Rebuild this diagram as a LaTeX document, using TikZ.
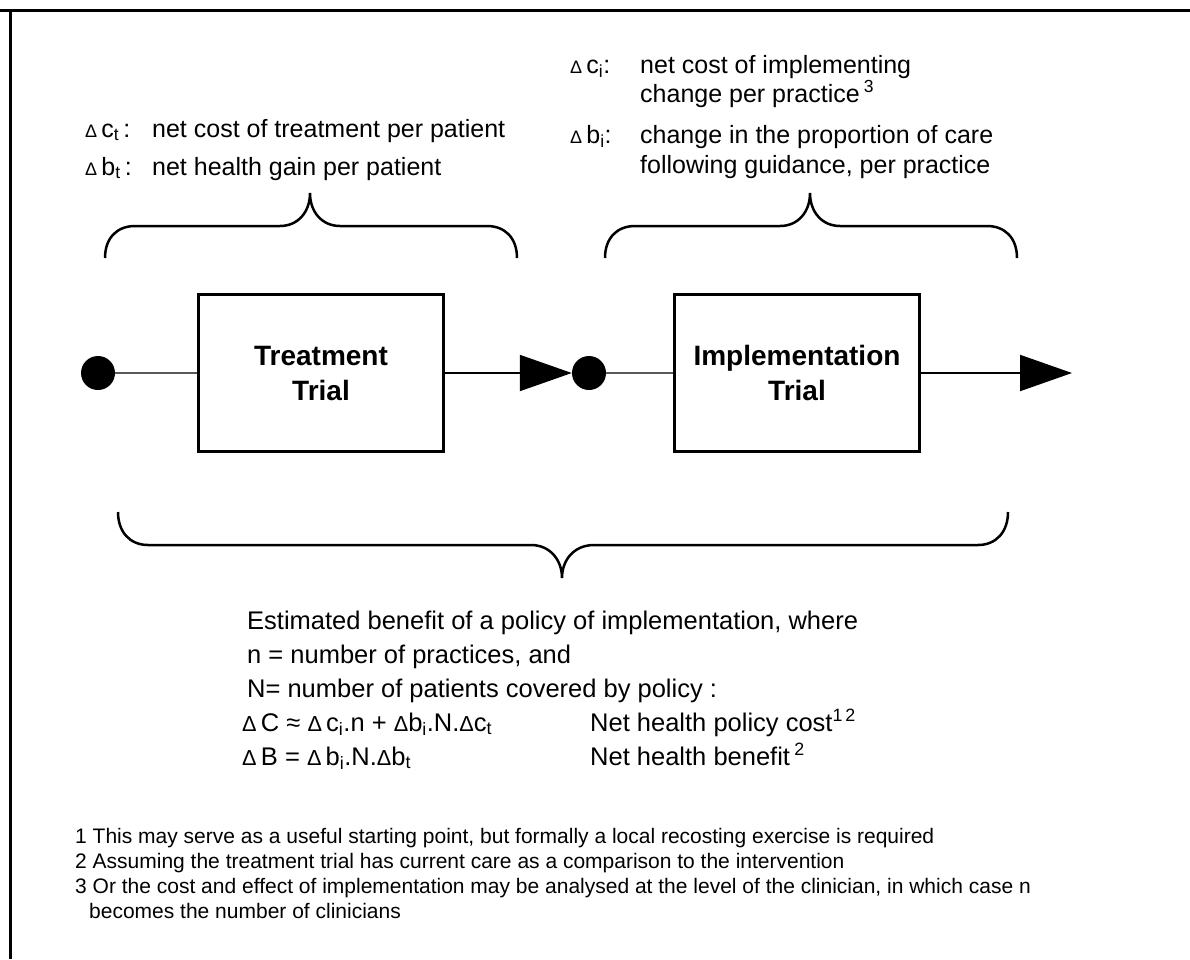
\documentclass[tikz,border=0pt]{standalone}
\usepackage{fontspec}
\setmainfont{Liberation Sans}
\usepackage{graphicx}
\usetikzlibrary{arrows.meta}
\newcommand{\D}{\scalebox{0.72}{Δ}}
\newcommand{\DD}{\scalebox{0.85}{Δ}}
\tikzset{
  txt/.style={anchor=base west, inner sep=0pt, font=\fontsize{25}{29}\selectfont},
  bot/.style={anchor=base west, inner sep=0pt, font=\fontsize{25.5}{30}\selectfont},
  fn/.style={anchor=base west, inner sep=0pt, font=\fontsize{21}{25}\selectfont},
  trialbox/.style={draw, line width=3pt, minimum width=245pt, minimum height=157pt, align=center, inner sep=0pt, font=\bfseries\fontsize{28}{35}\selectfont},
  dot/.style={circle, fill=black, inner sep=0pt, minimum size=34pt},
  thinline/.style={line width=2pt, black!65},
  flow/.style={line width=2pt, -{Triangle[length=52pt, width=36pt]}},
  brace/.style={line width=2.5pt},
  frame/.style={line width=3pt}
}
\begin{document}
\begin{tikzpicture}[x=1pt, y=-1pt]
\useasboundingbox (0,0) rectangle (1190,959);
% frame
\draw[frame] (0,10) -- (1190,10);
\draw[frame] (10,10) -- (10,959);
% top-left labels
\node[txt] (ct) at (85,137) {\makebox[67pt][l]{\D\,c\textsubscript{t}\,:}net cost of treatment per patient};
\node[txt] (bt) at (85,175) {\makebox[67pt][l]{\D\,b\textsubscript{t}\,:}net health gain per patient};
% top-right labels
\node[txt] (ci) at (570,73) {\makebox[70pt][l]{\D\,c\textsubscript{i}:}net cost of implementing};
\node[txt] (ci2) at (640,102) {change per practice\,\textsuperscript{3}};
\node[txt] (bi) at (570,143) {\makebox[70pt][l]{\D\,b\textsubscript{i}:}change in the proportion of care};
\node[txt] (bi2) at (640,173) {following guidance, per practice};
% braces
\draw[brace] (105,258) .. controls (105,238) and (117,226) .. (135,226) -- (280,226)
  .. controls (298,226) and (310,212) .. (310,193)
  .. controls (310,212) and (322,226) .. (340,226) -- (487,226)
  .. controls (505,226) and (517,238) .. (517,258);
\draw[brace] (605,258) .. controls (605,238) and (617,226) .. (635,226) -- (780,226)
  .. controls (798,226) and (810,212) .. (810,193)
  .. controls (810,212) and (822,226) .. (840,226) -- (987,226)
  .. controls (1005,226) and (1017,238) .. (1017,258);
\draw[brace] (118,512) .. controls (118,532) and (130,545) .. (148,545) -- (531,545)
  .. controls (550,545) and (562,560) .. (562,578)
  .. controls (562,560) and (574,545) .. (594,545) -- (978,545)
  .. controls (996,545) and (1008,532) .. (1008,512);
% flow
\node[dot] (d1) at (98,373) {};
\node[trialbox] (tt) at (321,373) {Treatment\\Trial};
\node[dot] (d2) at (589,373) {};
\node[trialbox] (it) at (797,373) {Implementation\\Trial};
\coordinate (end) at (1072,373);
\draw[thinline] (d1) -- (tt.west);
\draw[flow] (tt.east) -- (d2.west);
\draw[thinline] (d2) -- (it.west);
\draw[flow] (it.east) -- (end);
% bottom text
\node[bot] (est) at (247,629) {Estimated benefit of a policy of implementation, where};
\node[bot] (nn) at (247,663) {n = number of practices, and};
\node[bot] (NN) at (247,697) {N= number of patients covered by policy :};
\node[bot] (dC) at (242,731) {\DD\,C ≈ \DD\,c\textsubscript{i}.n + \DD b\textsubscript{i}.N.\DD c\textsubscript{t}};
\node[bot] (pc) at (590,731) {Net health policy cost\textsuperscript{1\,2}};
\node[bot] (dB) at (242,765) {\DD\,B = \DD\,b\textsubscript{i}.N.\DD b\textsubscript{t}};
\node[bot] (hb) at (590,765) {Net health benefit\,\textsuperscript{2}};
% footnotes
\node[fn] (f1) at (75,843) {1 This may serve as a useful starting point, but formally a local recosting exercise is required};
\node[fn] (f2) at (75,868) {2 Assuming the treatment trial has current care as a comparison to the intervention};
\node[fn] (f3) at (75,893) {3 Or the cost and effect of implementation may be analysed at the level of the clinician, in which case n};
\node[fn] (f4) at (89,918) {becomes the number of clinicians};
\end{tikzpicture}
\end{document}
